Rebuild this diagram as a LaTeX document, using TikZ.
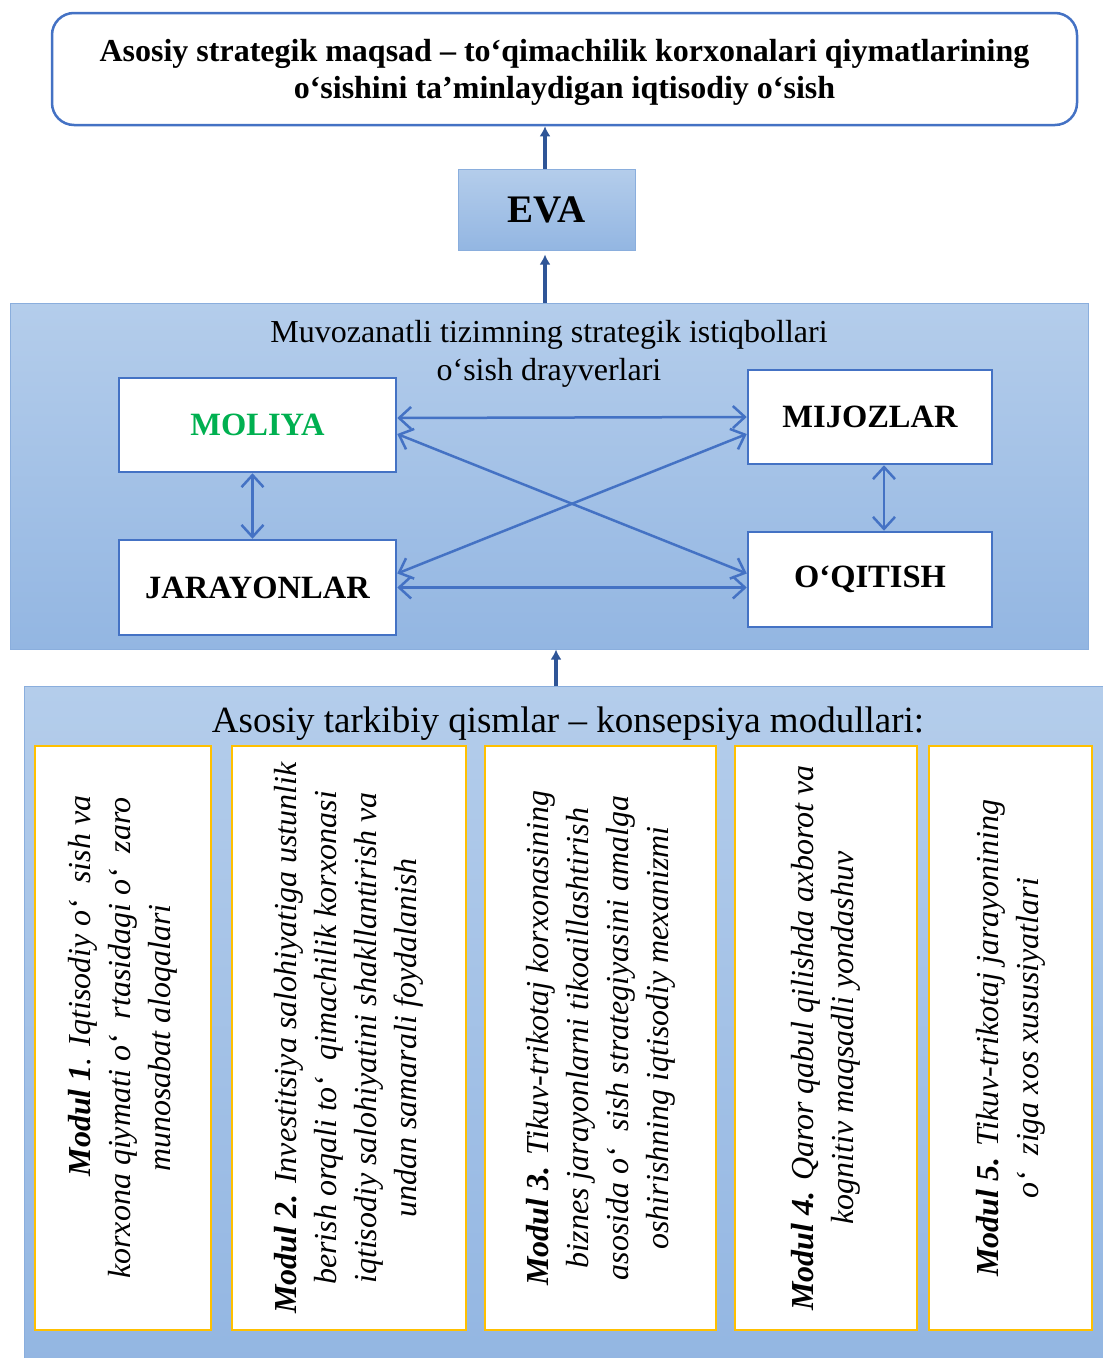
\documentclass[tikz,border=0pt]{standalone}
\usepackage{fontspec}
\setmainfont{Liberation Serif}
\usetikzlibrary{arrows.meta}

\definecolor{blueln}{HTML}{4472C4}
\definecolor{uparrow}{HTML}{2F5597}
\definecolor{paneltop}{HTML}{B4CDEB}
\definecolor{panelbot}{HTML}{93B6E2}
\definecolor{panelln}{HTML}{8AAEDD}
\definecolor{modln}{HTML}{FFC000}
\definecolor{molgreen}{HTML}{00B050}

\begin{document}
\begin{tikzpicture}[x=1pt,y=-1pt]
\tikzset{goalbox/.style = {draw=blueln, line width=2.5pt, fill=white, rounded corners=22pt}}
\tikzset{evabox/.style = {draw=panelln, line width=1pt, top color=paneltop, bottom color=panelbot, font=\bfseries\fontsize{39}{42}\selectfont}}
\tikzset{panel/.style = {draw=panelln, line width=1pt, top color=paneltop, bottom color=panelbot}}
\tikzset{drvbox/.style = {draw=blueln, line width=2.5pt, fill=white, inner sep=0pt, font=\bfseries\fontsize{32.5}{36}\selectfont}}
\tikzset{modbox/.style = {draw=modln, line width=2.5pt, fill=white, rotate=90, align=center, inner sep=0pt, font=\itshape\fontsize{32}{40}\selectfont}}
\tikzset{up/.style = {-{Latex[length=10pt,width=11pt]}, line width=4pt, draw=uparrow}}
\tikzset{link/.style = {{Straight Barb[length=12pt,width=22pt]}-{Straight Barb[length=12pt,width=22pt]}, line width=2.5pt, draw=blueln}}

\useasboundingbox (0,0) rectangle (1103,1358);

% top goal and EVA
\node[goalbox, minimum width=1025pt, minimum height=112pt] (goal) at (564.5,69) {};
\node[align=center, font=\bfseries\fontsize{32}{37}\selectfont] (goalt) at (564.5,72)
  {Asosiy strategik maqsad – to‘qimachilik korxonalari qiymatlarining\\o‘sishini ta’minlaydigan iqtisodiy o‘sish};
\node[evabox, minimum width=177pt, minimum height=81pt] (eva) at (546.5,209.5) {EVA};

% drivers panel
\node[panel, minimum width=1078pt, minimum height=346pt] (drv) at (549,476) {};
\node[align=center, font=\fontsize{32}{38}\selectfont] (drvt) at (549,354)
  {Muvozanatli tizimning strategik istiqbollari\\o‘sish drayverlari};
\node[drvbox, minimum width=277pt, minimum height=94pt, text=molgreen] (mol) at (257.5,425) {MOLIYA};
\node[drvbox, minimum width=244pt, minimum height=94pt] (mij) at (870,417) {MIJOZLAR};
\node[drvbox, minimum width=277pt, minimum height=95pt] (jar) at (257.5,587.5) {JARAYONLAR};
\node[drvbox, minimum width=244pt, minimum height=95pt] (oqi) at (870,579.5) {O‘QITISH};

\draw[link] ([yshift=7pt]mol.east) -- (mij.west);
\draw[link] ([yshift=-9pt]mol.east) -- ([yshift=6pt]oqi.west);
\draw[link] ([yshift=14pt]jar.east) -- ([yshift=-17pt]mij.west);
\draw[link] (jar.east) -- ([yshift=-8pt]oqi.west);
\draw[link] ([xshift=-5pt]mol.south) -- ([xshift=-5pt]jar.north);
\draw[link] ([xshift=14pt]mij.south) -- ([xshift=14pt]oqi.north);

% modules panel
\begin{scope}
\clip (0,0) rectangle (1103,1358);
\node[panel, minimum width=1090pt, minimum height=680pt] (mod) at (569,1026) {};
\end{scope}
\node[font=\fontsize{37}{40}\selectfont] (modt) at (568,724)
  {Asosiy tarkibiy qismlar – konsepsiya modullari:};
\node[modbox, minimum width=584pt, minimum height=176pt] (m1) at (123,1038)
  {\hspace*{104pt}\textbf{Modul 1}. Iqtisodiy o‘~~sish va\\korxona qiymati o‘~~rtasidagi o‘~~zaro\\munosabat aloqalari};
\node[modbox, minimum width=584pt, minimum height=234pt] (m2) at (349,1038)
  {\textbf{Modul 2.} Investitsiya salohiyatiga ustunlik\\berish orqali to‘~~qimachilik korxonasi\\iqtisodiy salohiyatini shakllantirish va\\undan samarali foydalanish};
\node[modbox, minimum width=584pt, minimum height=231pt] (m3) at (600.5,1038)
  {\textbf{Modul 3.} Tikuv-trikotaj korxonasining\\biznes jarayonlarni tikoaillashtirish\\asosida o‘~~sish strategiyasini amalga\\oshirishning iqtisodiy mexanizmi};
\node[modbox, minimum width=584pt, minimum height=182pt] (m4) at (826,1038)
  {\textbf{Modul 4.} Qaror qabul qilishda axborot va\\kognitiv maqsadli yondashuv};
\node[modbox, minimum width=584pt, minimum height=163pt] (m5) at (1010.5,1038)
  {\textbf{Modul 5.} Tikuv-trikotaj jarayonining\\o‘~~ziga xos xususiyatlari};
\coordinate (ba) at (556,686);

% upward arrows
\draw[up] ([xshift=-1.5pt]eva.north) -- ([xshift=-1.5pt]eva.north |- goal.south);
\draw[up] ([xshift=-1.5pt]eva.south |- drv.north) -- ([xshift=-1.5pt,yshift=-4pt]eva.south);
\draw[up] (ba) -- (ba |- drv.south);
\end{tikzpicture}
\end{document}
